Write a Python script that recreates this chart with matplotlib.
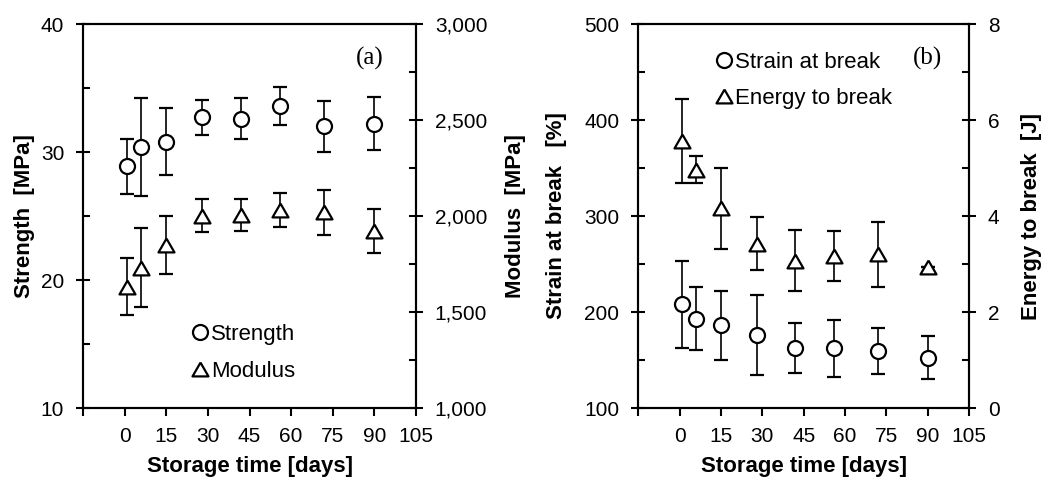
import matplotlib
matplotlib.use("Agg")
import matplotlib.pyplot as plt
from matplotlib.lines import Line2D
from matplotlib.ticker import MultipleLocator, FuncFormatter

# storage time of each test [days]
days = [1, 6, 15, 28, 42, 56, 72, 90]

# panel (a)
strength = [28.9, 30.4, 30.8, 32.7, 32.6, 33.6, 32.0, 32.2]
strength_err = [2.15, 3.8, 2.6, 1.35, 1.6, 1.5, 2.0, 2.07]
modulus = [1632, 1731, 1849, 2002, 2005, 2031, 2019, 1924]
modulus_err = [150, 205, 150, 85, 83, 90, 118, 115]

# panel (b)
strain = [208, 193, 186, 176, 162.5, 162, 159, 152.5]
strain_err = [45, 33, 36, 42, 26, 30, 24, 22]
energy = [5.56, 4.96, 4.16, 3.42, 3.07, 3.17, 3.2, 2.94]
energy_err = [0.87, 0.28, 0.85, 0.55, 0.63, 0.52, 0.68, 0.0]

xticks = [0, 15, 30, 45, 60, 75, 90, 105]

FONT = ["Liberation Sans", "DejaVu Sans"]
SERIF = ["Liberation Serif", "DejaVu Serif"]

plt.rcParams["axes.linewidth"] = 1.5

# equilateral open triangle, centred on its bounding box like '^'
TRI = [(0, 1), (-1.155, -1), (1.155, -1), (0, 1)]

fig = plt.figure(figsize=(10.41, 4.93), dpi=100)
ax_a = fig.add_axes([0.0797, 0.1724, 0.3200, 0.7789])
ax_b = fig.add_axes([0.6130, 0.1724, 0.3180, 0.7789])

mk = dict(mfc="white", mec="black", mew=1.6, color="black",
          ecolor="black", elinewidth=1.2, capsize=4.7, capthick=1.2, ls="none")
circ_ms, tri_ms = 10.8, 11.5


def style_axis(ax, twin, ylabel, ylabel2, pad_left, pad_right):
    ax.set_xlim(-15, 105)
    ax.set_xticks([-15] + xticks)
    ax.set_xticklabels([""] + [str(t) for t in xticks])
    for a in (ax, twin):
        a.tick_params(axis="y", which="major", direction="inout", length=10, width=1.5,
                      labelsize=15, pad=8.5)
        a.tick_params(axis="y", which="minor", direction="in", length=5, width=1.5)
        for lab in a.get_yticklabels():
            lab.set_family(FONT)
    ax.tick_params(axis="x", direction="out", length=6, width=1.5, labelsize=15, pad=8)
    ax.tick_params(axis="x", top=False)
    twin.tick_params(axis="x", which="both", bottom=False, top=False)
    for lab in ax.get_xticklabels():
        lab.set_family(FONT)
    ax.set_xlabel("Storage time [days]", fontsize=16, fontweight="bold", family=FONT,
                  labelpad=7)
    ax.set_ylabel(ylabel, fontsize=16, fontweight="bold", family=FONT, labelpad=pad_left)
    twin.set_ylabel(ylabel2, fontsize=16, fontweight="bold", family=FONT, labelpad=pad_right)


def handles():
    return [Line2D([], [], marker="o", ls="none", ms=circ_ms, mfc="white", mec="black", mew=1.6),
            Line2D([], [], marker=TRI, ls="none", ms=tri_ms, mfc="white", mec="black", mew=1.6)]


# ---- panel (a)
tw_a = ax_a.twinx()
ax_a.errorbar(days, strength, yerr=strength_err, fmt="o", ms=circ_ms, **mk)
tw_a.errorbar(days, modulus, yerr=modulus_err, marker=TRI, ms=tri_ms, **mk)
ax_a.set_ylim(10, 40)
ax_a.yaxis.set_major_locator(MultipleLocator(10))
ax_a.yaxis.set_minor_locator(MultipleLocator(5))
tw_a.set_ylim(1000, 3000)
tw_a.yaxis.set_major_locator(MultipleLocator(500))
tw_a.yaxis.set_minor_locator(MultipleLocator(250))
tw_a.yaxis.set_major_formatter(FuncFormatter(lambda v, p: f"{v:,.0f}"))
style_axis(ax_a, tw_a, "Strength  [MPa]", "Modulus  [MPa]", 4, 13)
ax_a.text(0.862, 0.911, "(a)", transform=ax_a.transAxes, fontsize=18,
          family=SERIF, ha="center", va="center")
ax_a.legend(handles(), ["Strength", "Modulus"], loc="upper left",
            bbox_to_anchor=(0.327, 0.219), borderaxespad=0, borderpad=0,
            frameon=False, handlelength=0.7, handletextpad=0.15, labelspacing=0.72,
            prop={"family": FONT, "size": 16})

# ---- panel (b)
tw_b = ax_b.twinx()
ax_b.errorbar(days, strain, yerr=strain_err, fmt="o", ms=circ_ms, **mk)
tw_b.errorbar(days, energy, yerr=energy_err, marker=TRI, ms=tri_ms, **mk)
ax_b.set_ylim(100, 500)
ax_b.yaxis.set_major_locator(MultipleLocator(100))
ax_b.yaxis.set_minor_locator(MultipleLocator(50))
tw_b.set_ylim(0, 8)
tw_b.yaxis.set_major_locator(MultipleLocator(2))
tw_b.yaxis.set_minor_locator(MultipleLocator(1))
style_axis(ax_b, tw_b, "Strain at break   [%]", "Energy to break  [J]", 12.5, 15)
ax_b.text(0.873, 0.911, "(b)", transform=ax_b.transAxes, fontsize=18,
          family=SERIF, ha="center", va="center")
ax_b.legend(handles(), ["Strain at break", "Energy to break"], loc="upper left",
            bbox_to_anchor=(0.236, 0.927), borderaxespad=0, borderpad=0,
            frameon=False, handlelength=0.7, handletextpad=0.15, labelspacing=0.68,
            prop={"family": FONT, "size": 16})

fig.savefig("out.png", dpi=100)
